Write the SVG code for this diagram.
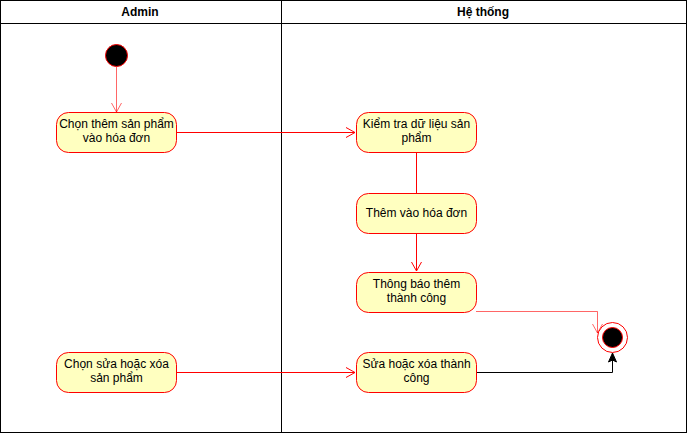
<svg xmlns="http://www.w3.org/2000/svg" width="687" height="433" viewBox="0 0 687 433">
<defs>
<style>
.lane{fill:#fff;stroke:#000;stroke-width:1}
.act{fill:#FFFFC0;stroke:#FF0000;stroke-width:1}
.t{font-family:"Liberation Sans",Arial,sans-serif;font-size:12px;fill:#000;text-anchor:middle}
.h{font-family:"Liberation Sans",Arial,sans-serif;font-size:12px;font-weight:bold;fill:#000;text-anchor:middle}
.c{fill:none;stroke:#FF0000;stroke-width:1}
.cl{fill:none;stroke:#FF0000;stroke-opacity:0.6;stroke-width:1}
.cb{fill:none;stroke:#000;stroke-width:1}
</style>
<marker id="ar" markerWidth="12" markerHeight="12" refX="10" refY="6" orient="auto" markerUnits="userSpaceOnUse">
<path d="M1,1 L10,6 L1,11" fill="none" stroke="#FF0000" stroke-width="1"/>
</marker>
<marker id="arl" markerWidth="12" markerHeight="12" refX="10" refY="6" orient="auto" markerUnits="userSpaceOnUse">
<path d="M1,1 L10,6 L1,11" fill="none" stroke="#FF0000" stroke-opacity="0.6" stroke-width="1"/>
</marker>
<marker id="ab" markerWidth="12" markerHeight="12" refX="10" refY="5" orient="auto" markerUnits="userSpaceOnUse">
<path d="M1,1 L10,5 L1,9 L3,5 Z" fill="#000" stroke="#000" stroke-width="1"/>
</marker>
</defs>
<g id="lanes">
<rect class="lane" x="0.5" y="0.5" width="281" height="432"/>
<rect class="lane" x="281.5" y="0.5" width="405" height="432"/>
<line class="cb" x1="0" y1="23.5" x2="687" y2="23.5"/>
<text class="h" x="140" y="16">Admin</text>
<text class="h" x="483" y="16">Hệ thống</text>
</g>
<g id="connectors">
<path class="cl" d="M116.5,67 L116.5,112" marker-end="url(#arl)"/>
<path class="c" d="M176,132.5 L355,132.5" marker-end="url(#ar)"/>
<path class="c" d="M416.5,152 L416.5,193"/>
<path class="c" d="M416.5,233 L416.5,271" marker-end="url(#ar)"/>
<path class="cl" d="M476,311.5 L597.5,311.5 L597.5,333" marker-end="url(#arl)"/>
<path class="c" d="M176,372.5 L355,372.5" marker-end="url(#ar)"/>
<path class="cb" d="M476,372.5 L612.5,372.5 L612.5,353" marker-end="url(#ab)"/>
</g>
<g id="start">
<circle cx="116.5" cy="55.5" r="11" fill="#000" stroke="#FF0000"/>
</g>
<g id="n1">
<rect class="act" x="56.5" y="112.5" width="120" height="40" rx="12"/>
<text class="t" x="116.5" y="128">Chọn thêm sản phẩm</text>
<text class="t" x="116.5" y="142">vào hóa đơn</text>
</g>
<g id="n2">
<rect class="act" x="356.5" y="112.5" width="120" height="40" rx="12"/>
<text class="t" x="416.5" y="128">Kiểm tra dữ liệu sản</text>
<text class="t" x="416.5" y="142">phẩm</text>
</g>
<g id="n3">
<rect class="act" x="356.5" y="193.5" width="120" height="40" rx="12"/>
<text class="t" x="416.5" y="217">Thêm vào hóa đơn</text>
</g>
<g id="n4">
<rect class="act" x="356.5" y="272.5" width="120" height="40" rx="12"/>
<text class="t" x="416.5" y="288">Thông báo thêm</text>
<text class="t" x="416.5" y="302">thành công</text>
</g>
<g id="n5">
<rect class="act" x="56.5" y="352.5" width="120" height="40" rx="12"/>
<text class="t" x="116.5" y="368">Chọn sửa hoặc xóa</text>
<text class="t" x="116.5" y="382">sản phẩm</text>
</g>
<g id="n6">
<rect class="act" x="356.5" y="352.5" width="120" height="40" rx="12"/>
<text class="t" x="416.5" y="368">Sửa hoặc xóa thành</text>
<text class="t" x="416.5" y="382">công</text>
</g>
<g id="end">
<circle cx="612.5" cy="337.5" r="15" fill="#fff" stroke="#FF0000"/>
<circle cx="612.5" cy="337.5" r="10" fill="#000" stroke="#FF0000"/>
</g>
</svg>
